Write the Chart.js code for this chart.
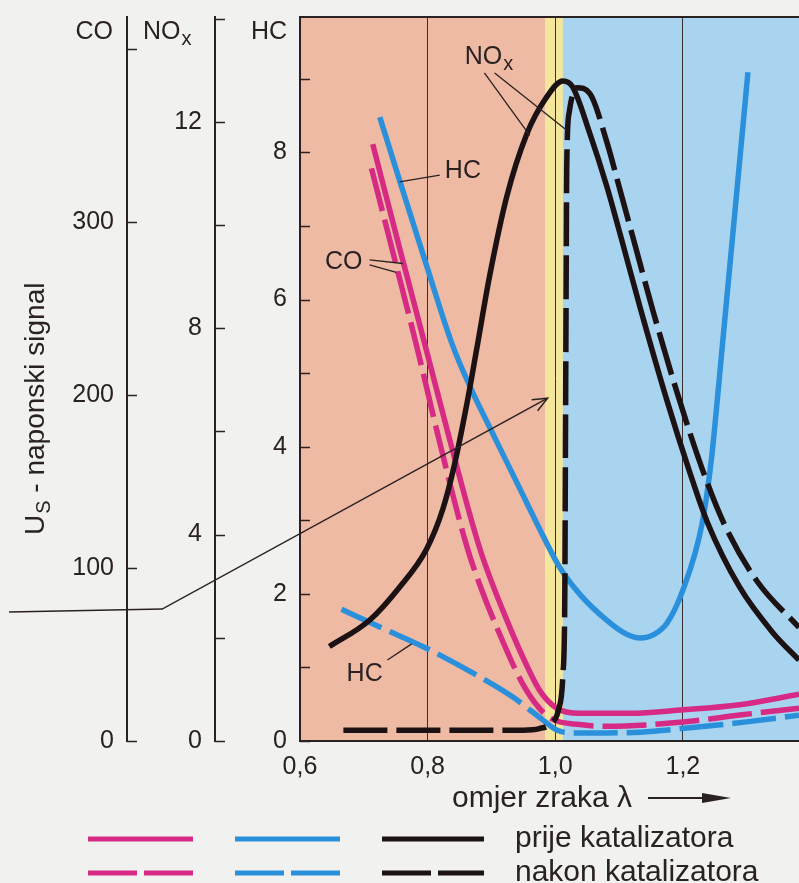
<!DOCTYPE html>
<html>
<head>
<meta charset="utf-8">
<title>Lambda - emisije prije i nakon katalizatora</title>
<script src="https://cdn.jsdelivr.net/npm/chart.js@4.4.1/dist/chart.umd.min.js"></script>
<style>
  html, body { margin: 0; padding: 0; background: #f1f1ef; }
  #wrap { width: 799px; height: 883px; }
</style>
</head>
<body>
<div id="wrap"><canvas id="lambdaChart" width="799" height="883"></canvas></div>
<script>
// omjer zraka lambda (x os)
const xTicks = [0.6, 0.8, 1.0, 1.2];

// lijeve osi
const coTicks = [0, 100, 200, 300, 400];
const coLabels = ['0', '100', '200', '300', ''];
const noxTicks = [0, 2, 4, 6, 8, 10, 12, 14];
const noxLabels = ['0', '', '4', '', '8', '', '12', ''];
const hcTicks = [0, 1, 2, 3, 4, 5, 6, 7, 8, 9];
const hcLabels = ['0', '', '2', '', '4', '', '6', '', '8', ''];

// krivulje: [lambda, vrijednost na vlastitoj osi]
const coPrije = [[0.714, 345], [0.756, 285], [0.798, 226], [0.839, 168], [0.882, 111], [0.924, 70],
  [0.96, 40], [0.976, 29], [1.002, 19], [1.038, 16], [1.117, 16], [1.2, 18], [1.289, 21], [1.382, 27]];
const coNakon = [[0.712, 331], [0.748, 279], [0.783, 228], [0.822, 168], [0.861, 113], [0.882, 90],
  [0.908, 66], [0.949, 33], [0.975, 19], [0.996, 12.5], [1.038, 9.5], [1.081, 8.5], [1.2, 11], [1.289, 15], [1.382, 19]];
const hcPrije = [[0.725, 8.48], [0.756, 7.62], [0.798, 6.47], [0.839, 5.38], [0.871, 4.73], [0.902, 4.18],
  [0.94, 3.51], [0.971, 2.96], [1.007, 2.36], [1.04, 1.98], [1.081, 1.64], [1.11, 1.46], [1.133, 1.40],
  [1.155, 1.45], [1.175, 1.60], [1.2, 2.05], [1.23, 2.95], [1.245, 3.85], [1.26, 5.2], [1.302, 9.09]];
const hcNakon = [[0.665, 1.79], [0.725, 1.55], [0.803, 1.24], [0.882, 0.87], [0.933, 0.6], [0.98, 0.29],
  [1.002, 0.15], [1.027, 0.11], [1.08, 0.11], [1.133, 0.12], [1.211, 0.18], [1.3, 0.26], [1.382, 0.35]];
const noxPrije = [[0.646, 1.83], [0.709, 2.34], [0.756, 2.98], [0.798, 3.71], [0.824, 4.5], [0.842, 5.35],
  [0.861, 6.5], [0.877, 7.6], [0.897, 9.0], [0.924, 10.55], [0.955, 11.75], [0.985, 12.45], [1.012, 12.79],
  [1.027, 12.68], [1.054, 11.78], [1.081, 10.74], [1.1, 9.9], [1.133, 8.4], [1.175, 6.6], [1.211, 5.2],
  [1.238, 4.25], [1.289, 2.98], [1.341, 2.10], [1.382, 1.57]];
const noxNakon = [[0.668, 0.21], [0.8, 0.21], [0.95, 0.21], [0.975, 0.24], [0.993, 0.34], [1.005, 0.6],
  [1.012, 1.28], [1.015, 2.85], [1.016, 5.7], [1.017, 8.56], [1.018, 11.12], [1.022, 12.19], [1.034, 12.66],
  [1.054, 12.55], [1.081, 11.6], [1.101, 10.7], [1.122, 9.75], [1.154, 8.3], [1.191, 6.75], [1.231, 5.25],
  [1.265, 4.2], [1.316, 3.1], [1.382, 2.2]];

// podrucja: bogata smjesa / lambda prozor / siromasna smjesa
const zoneStops = [0.6, 0.984, 1.012, 1.382];

// oznake u grafu, u jedinicama lambda / HC os
const noteNox = [0.858, 9.30];
const noteHcTop = [0.827, 7.74];
const noteCo = [0.698, 6.51];
const noteHcLow = [0.673, 0.91];
const leaders = [
  [[0.889, 9.08], [0.960, 8.23]],
  [[0.905, 9.08], [1.018, 8.30]],
  [[0.819, 7.69], [0.756, 7.60]],
  [[0.709, 6.54], [0.761, 6.49]],
  [[0.709, 6.47], [0.751, 6.37]],
  [[0.737, 1.10], [0.775, 1.32]]
];
const signalArrow = [[0.144, 1.753], [0.384, 1.793], [0.988, 4.66]];

const INK = '#2a2222';
const MAGENTA = '#d62a84';
const BLUE = '#2b90dc';
const BLACK = '#1c1214';
const FONT = '"Liberation Sans", Arial, Helvetica, sans-serif';
const zoneColors = ['#eebaa4', '#f4e69b', '#a9d4ef'];

const toXY = arr => arr.map(p => ({ x: p[0], y: p[1] }));

function subText(ctx, main, sub, x, y, size, subSize) {
  ctx.font = size + 'px ' + FONT;
  ctx.fillText(main, x, y);
  const w = ctx.measureText(main).width;
  ctx.font = subSize + 'px ' + FONT;
  ctx.fillText(sub, x + w + 1, y + size * 0.3);
}

const decor = {
  id: 'decor',
  beforeDraw(chart) {
    const { ctx, chartArea: a, scales: { x } } = chart;
    ctx.save();
    for (let i = 0; i < zoneColors.length; i++) {
      const x0 = x.getPixelForValue(zoneStops[i]);
      const x1 = x.getPixelForValue(zoneStops[i + 1]);
      ctx.fillStyle = zoneColors[i];
      ctx.fillRect(x0, a.top, x1 - x0, a.bottom - a.top);
    }
    ctx.restore();
  },
  afterDraw(chart) {
    const { ctx, chartArea: a, scales } = chart;
    const x = scales.x, hc = scales.yHC;
    const px = v => x.getPixelForValue(v);
    const py = v => hc.getPixelForValue(v);
    ctx.save();
    ctx.strokeStyle = INK;
    ctx.fillStyle = INK;

    // gornji rub
    ctx.lineWidth = 2;
    ctx.beginPath();
    ctx.moveTo(a.left, a.top);
    ctx.lineTo(a.right, a.top);
    ctx.stroke();

    // crtice prema unutra
    ctx.lineWidth = 1.5;
    ['yCO', 'yNOx', 'yHC'].forEach(id => {
      const s = scales[id];
      s.ticks.forEach(t => {
        const yy = Math.round(s.getPixelForValue(t.value)) + 0.5;
        ctx.beginPath();
        ctx.moveTo(s.right, yy);
        ctx.lineTo(s.right + 10, yy);
        ctx.stroke();
      });
    });

    // naslovi osi
    ctx.textBaseline = 'middle';
    ctx.font = '25px ' + FONT;
    ctx.textAlign = 'right';
    ctx.fillText('CO', scales.yCO.right - 14, a.top + 15);
    ctx.fillText('HC', hc.right - 13, a.top + 15);
    ctx.textAlign = 'left';
    subText(ctx, 'NO', 'x', scales.yCO.right + 16, a.top + 15, 25, 20);

    // U_S - naponski signal
    ctx.save();
    ctx.translate(36, 535);
    ctx.rotate(-Math.PI / 2);
    ctx.textAlign = 'left';
    ctx.font = '28px ' + FONT;
    ctx.fillText('U', 0, 0);
    let w = ctx.measureText('U').width;
    ctx.font = '20px ' + FONT;
    ctx.fillText('S', w + 1, 8);
    w += ctx.measureText('S').width + 1;
    ctx.font = '28px ' + FONT;
    ctx.fillText(' - naponski signal', w, 0);
    ctx.restore();

    // oznake krivulja
    ctx.textAlign = 'left';
    subText(ctx, 'NO', 'x', px(noteNox[0]), py(noteNox[1]), 25, 20);
    ctx.font = '25px ' + FONT;
    ctx.fillText('HC', px(noteHcTop[0]), py(noteHcTop[1]));
    ctx.fillText('HC', px(noteHcLow[0]), py(noteHcLow[1]));
    ctx.textAlign = 'right';
    ctx.fillText('CO', px(noteCo[0]), py(noteCo[1]));

    ctx.lineWidth = 1.3;
    leaders.forEach(l => {
      ctx.beginPath();
      ctx.moveTo(px(l[0][0]), py(l[0][1]));
      ctx.lineTo(px(l[1][0]), py(l[1][1]));
      ctx.stroke();
    });

    // strelica signala
    ctx.lineWidth = 1.5;
    ctx.beginPath();
    signalArrow.forEach((p, i) => {
      if (i === 0) ctx.moveTo(px(p[0]), py(p[1]));
      else ctx.lineTo(px(p[0]), py(p[1]));
    });
    ctx.stroke();
    const n = signalArrow.length;
    const tx = px(signalArrow[n - 1][0]), ty = py(signalArrow[n - 1][1]);
    const ang = Math.atan2(ty - py(signalArrow[n - 2][1]), tx - px(signalArrow[n - 2][0]));
    ctx.beginPath();
    ctx.moveTo(tx - 16 * Math.cos(ang - 0.4), ty - 16 * Math.sin(ang - 0.4));
    ctx.lineTo(tx, ty);
    ctx.lineTo(tx - 16 * Math.cos(ang + 0.4), ty - 16 * Math.sin(ang + 0.4));
    ctx.stroke();

    // naslov x osi
    ctx.textAlign = 'left';
    ctx.font = '30px ' + FONT;
    ctx.fillText('omjer zraka \u03bb', 452, 799);
    ctx.lineWidth = 2;
    ctx.beginPath();
    ctx.moveTo(648, 798);
    ctx.lineTo(708, 798);
    ctx.stroke();
    ctx.beginPath();
    ctx.moveTo(731, 798);
    ctx.lineTo(702, 793);
    ctx.lineTo(702, 803);
    ctx.closePath();
    ctx.fill();

    // legenda
    const rows = [{ y: 839, dash: [], text: 'prije katalizatora' },
                  { y: 873, dash: [49, 7], text: 'nakon katalizatora' }];
    const swatches = [[88, 193, MAGENTA], [235, 340, BLUE], [382, 484, BLACK]];
    rows.forEach(r => {
      ctx.lineWidth = 5;
      ctx.setLineDash(r.dash);
      swatches.forEach(s => {
        ctx.strokeStyle = s[2];
        ctx.beginPath();
        ctx.moveTo(s[0], r.y);
        ctx.lineTo(s[1], r.y);
        ctx.stroke();
      });
      ctx.setLineDash([]);
      ctx.fillStyle = INK;
      ctx.font = '30px ' + FONT;
      ctx.fillText(r.text, 515, r.y);
    });
    ctx.restore();
  }
};

function curve(data, color, axis, dashed) {
  return {
    data: toXY(data),
    yAxisID: axis,
    borderColor: color,
    borderWidth: 5.5,
    borderDash: dashed ? [44, 9] : [],
    cubicInterpolationMode: 'monotone',
    pointRadius: 0,
    fill: false
  };
}

function leftAxis(min, max, ticks, labels, weight, width) {
  return {
    type: 'linear',
    position: 'left',
    weight: weight,
    min: min,
    max: max,
    afterBuildTicks: s => { s.ticks = ticks.map(v => ({ value: v })); },
    afterFit: s => { s.width = width; s.paddingTop = 0; s.paddingBottom = 0; },
    grid: { display: false, drawTicks: false },
    border: { display: true, color: INK, width: 2 },
    ticks: {
      padding: 13,
      color: INK,
      font: { family: FONT, size: 25 },
      callback: (v, i) => labels[i]
    }
  };
}

const ctx = document.getElementById('lambdaChart').getContext('2d');
new Chart(ctx, {
  type: 'line',
  data: {
    datasets: [
      curve(noxPrije, BLACK, 'yNOx', false),
      curve(noxNakon, BLACK, 'yNOx', true),
      curve(coPrije, MAGENTA, 'yCO', false),
      curve(coNakon, MAGENTA, 'yCO', true),
      curve(hcPrije, BLUE, 'yHC', false),
      curve(hcNakon, BLUE, 'yHC', true)
    ]
  },
  options: {
    responsive: false,
    animation: false,
    layout: { padding: { top: 17, left: 0, right: 0, bottom: 0 } },
    plugins: { legend: { display: false }, tooltip: { enabled: false } },
    scales: {
      x: {
        type: 'linear',
        min: 0.6,
        max: 1.382,
        afterBuildTicks: s => { s.ticks = xTicks.map(v => ({ value: v })); },
        afterFit: s => { s.height = 142; s.paddingLeft = 0; s.paddingRight = 0; },
        grid: { color: '#3a2e2e', lineWidth: 1, drawTicks: false },
        border: { display: true, color: INK, width: 2 },
        ticks: {
          padding: 11,
          color: INK,
          font: { family: FONT, size: 25 },
          callback: v => v.toFixed(1).replace('.', ',')
        }
      },
      yCO: leftAxis(0, 418.5, coTicks, coLabels, 2, 127),
      yNOx: leftAxis(0, 14.03, noxTicks, noxLabels, 1, 88),
      yHC: leftAxis(0, 9.84, hcTicks, hcLabels, 0, 85)
    }
  },
  plugins: [decor]
});
</script>
</body>
</html>
